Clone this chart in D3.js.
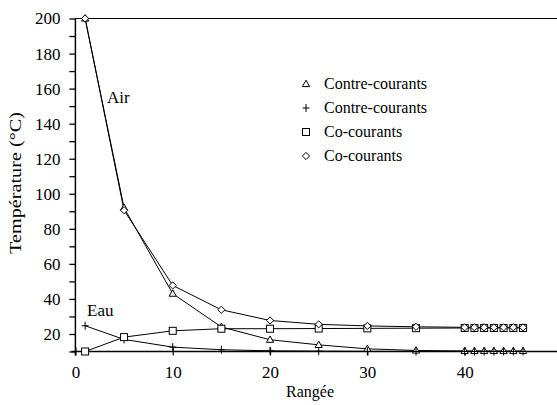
<!DOCTYPE html>
<html><head><meta charset="utf-8">
<script src="https://cdn.jsdelivr.net/npm/d3@7/dist/d3.min.js"></script>
<style>
body{margin:0;background:#fff;}
svg text{font-family:"Liberation Serif","Times New Roman",Times,serif !important;}
</style></head><body>
<svg id="c" width="557" height="405"></svg>
<script>
const rangees = [1, 5, 10, 15, 20, 25, 30, 35, 40, 41, 42, 43, 44, 45, 46];
const airContre = [200, 92, 43, 24, 16.7, 13.8, 11.5, 10.6, 10.3, 10.3, 10.3, 10.3, 10.3, 10.3, 10.3];
const eauContre = [24.7, 16.9, 12.5, 11, 10.4, 10.2, 10.1, 10, 10, 10, 10, 10, 10, 10, 10];
const eauCo = [10, 18.2, 21.8, 23, 23, 23.1, 23.2, 23.3, 23.4, 23.4, 23.4, 23.4, 23.4, 23.4, 23.4];
const airCo = [200, 90.6, 47.7, 33.8, 27.7, 25.5, 24.6, 24.1, 23.8, 23.8, 23.8, 23.8, 23.8, 23.8, 23.8];
const legendLabels = ["Contre-courants", "Contre-courants", "Co-courants", "Co-courants"];
const xTicks = [0, 10, 20, 30, 40];
const yTicks = [20, 40, 60, 80, 100, 120, 140, 160, 180, 200];
const yMinor = [10, 30, 50, 70, 90, 110, 130, 150, 170, 190];

const FONT = "Liberation Serif, Times New Roman, serif";
const svg = d3.select("#c");
const x = d3.scaleLinear().domain([0, 50]).range([75.4, 562]);
const y = d3.scaleLinear().domain([10, 200]).range([351.5, 18.5]);

const series = [
  {vals: airContre, sym: "triangle"},
  {vals: eauContre, sym: "plus"},
  {vals: eauCo, sym: "square"},
  {vals: airCo, sym: "diamond"}
];

// top line at 200
svg.append("line").attr("x1", x(0)).attr("x2", 557).attr("y1", y(200)).attr("y2", y(200))
  .attr("stroke", "#000").attr("stroke-width", 1);

// y axis
const yAxis = d3.axisLeft(y).tickValues(yTicks.concat(yMinor)).tickSize(6).tickPadding(9)
  .tickFormat(d => yTicks.includes(d) ? d : "");
const gy = svg.append("g").attr("transform", `translate(${x(0)},0)`).call(yAxis)
  .attr("font-family", FONT);
gy.select(".domain").remove();
gy.selectAll("line").attr("stroke", "#000").attr("stroke-width", 1.3);
gy.selectAll("text").attr("font-size", 17).attr("fill", "#000");
svg.append("line").attr("x1", x(0)).attr("x2", x(0)).attr("y1", y(200)).attr("y2", y(10) + 4)
  .attr("stroke", "#000").attr("stroke-width", 1.5);

// x axis
const xAxis = d3.axisBottom(x).tickValues(xTicks).tickSize(4).tickPadding(10).tickFormat(d3.format("d"));
const gx = svg.append("g").attr("transform", `translate(0,${y(10)})`).call(xAxis)
  .attr("font-family", FONT);
gx.select(".domain").remove();
gx.selectAll(".tick line").attr("y1", -4).attr("stroke", "#000").attr("stroke-width", 1.2);
gx.selectAll("text").attr("font-size", 17).attr("fill", "#000");
svg.append("line").attr("x1", x(0) - 4).attr("x2", 557).attr("y1", y(10)).attr("y2", y(10))
  .attr("stroke", "#000").attr("stroke-width", 1.3);

// lines
const line = d3.line().x((d, i) => x(rangees[i])).y(d => y(d));
series.forEach(s => {
  svg.append("path").datum(s.vals).attr("d", line).attr("fill", "none")
    .attr("stroke", "#000").attr("stroke-width", 1);
});

function drawSym(g, sym, cx, cy) {
  if (sym === "triangle") {
    g.append("path").attr("d", `M${cx},${cy-3.8}L${cx+3.6},${cy+2.6}L${cx-3.6},${cy+2.6}Z`)
      .attr("fill", "#fff").attr("stroke", "#000").attr("stroke-width", 1);
  } else if (sym === "plus") {
    g.append("path").attr("d", `M${cx-3.5},${cy}H${cx+3.5}M${cx},${cy-4}V${cy+4}`)
      .attr("stroke", "#000").attr("stroke-width", 1);
  } else if (sym === "square") {
    g.append("rect").attr("x", cx-3.5).attr("y", cy-3.5).attr("width", 7).attr("height", 7)
      .attr("fill", "#fff").attr("stroke", "#000").attr("stroke-width", 1);
  } else {
    g.append("path").attr("d", `M${cx},${cy-3.6}L${cx+3.6},${cy}L${cx},${cy+3.6}L${cx-3.6},${cy}Z`)
      .attr("fill", "#fff").attr("stroke", "#000").attr("stroke-width", 1);
  }
}
series.forEach(s => {
  const g = svg.append("g");
  s.vals.forEach((v, i) => drawSym(g, s.sym, x(rangees[i]), y(v)));
});

// legend
const lg = svg.append("g");
legendLabels.forEach((t, i) => {
  const yy = 84 + i * 24;
  drawSym(lg, series[i].sym, 306, yy);
  lg.append("text").attr("x", 324).attr("y", yy + 5).attr("font-family", FONT).attr("font-size", 16).text(t);
});

// annotations
svg.append("text").attr("x", 107).attr("y", 103).attr("font-family", FONT).attr("font-size", 17).text("Air");
svg.append("text").attr("x", 87).attr("y", 316).attr("font-family", FONT).attr("font-size", 17).text("Eau");

// axis titles
svg.append("text").attr("x", 310).attr("y", 397).attr("text-anchor", "middle").attr("font-family", FONT)
  .attr("font-size", 16).text("Rangée");
svg.append("text").attr("transform", "translate(21,183) rotate(-90)").attr("text-anchor", "middle")
  .attr("font-family", FONT).attr("font-size", 16).attr("textLength", 142)
  .attr("lengthAdjust", "spacingAndGlyphs").text("Température (°C)");
</script></body></html>
